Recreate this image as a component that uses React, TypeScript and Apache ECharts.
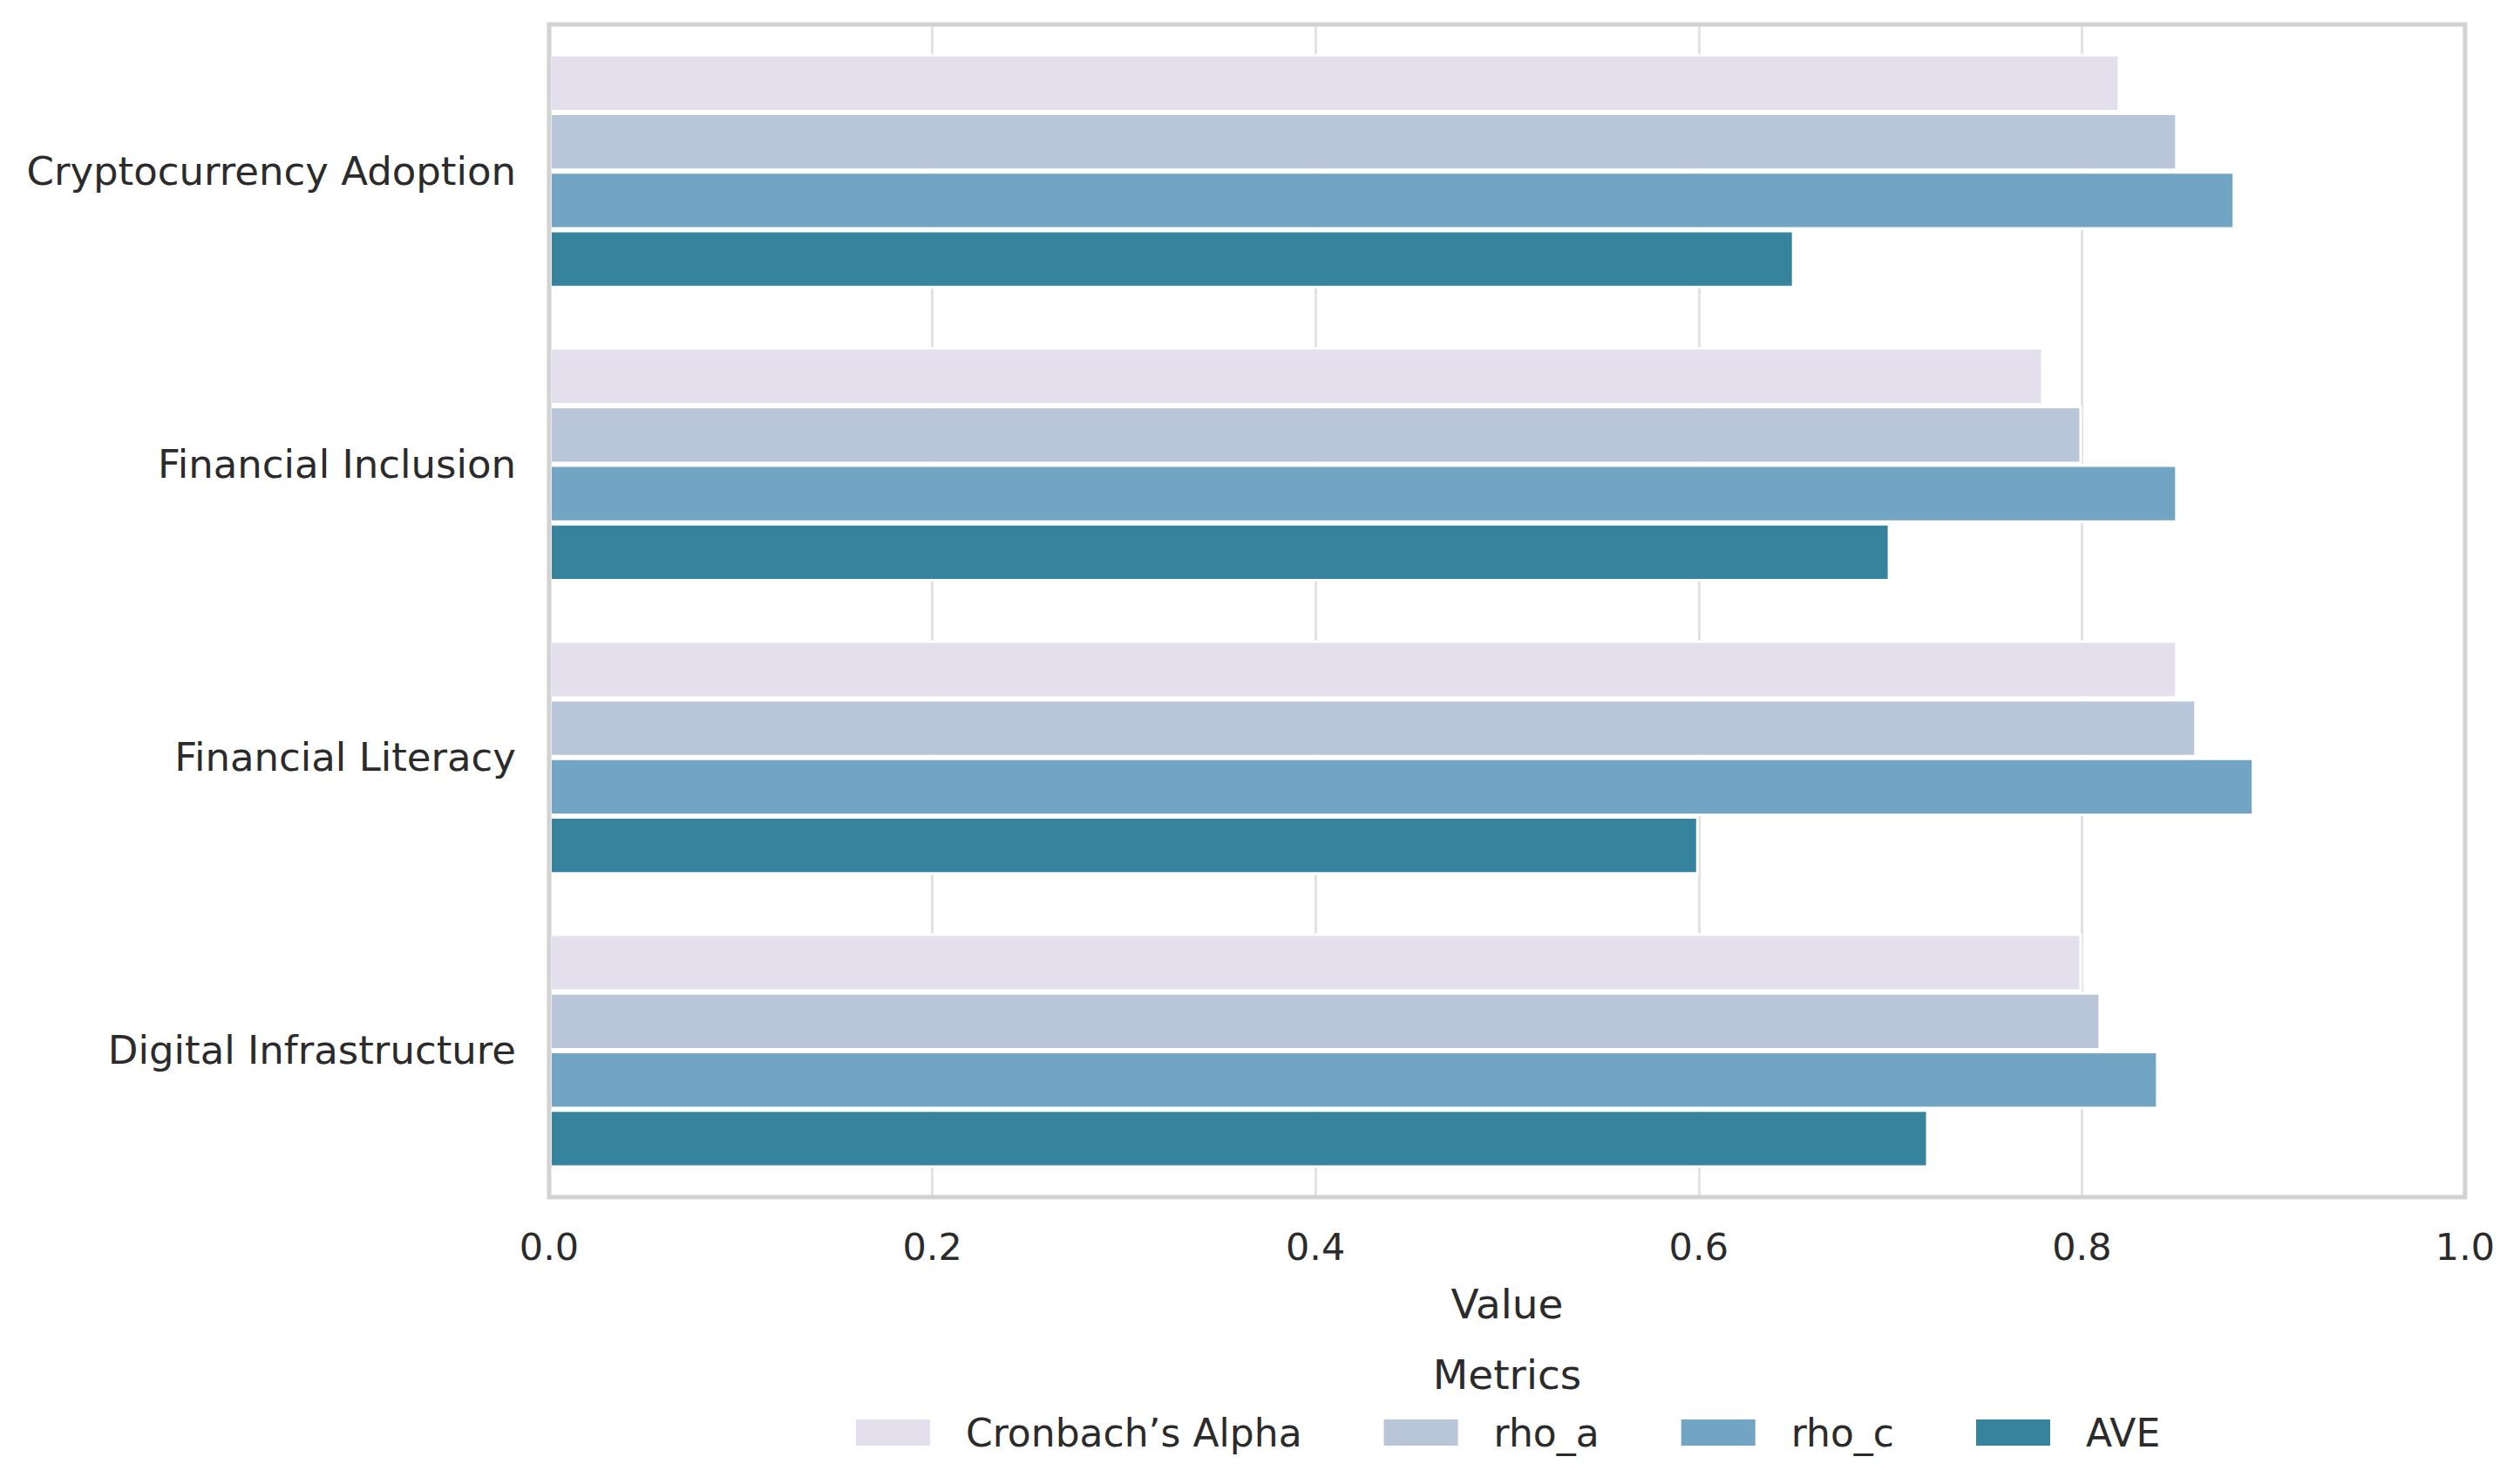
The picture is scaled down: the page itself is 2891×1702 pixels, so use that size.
import React, { useEffect, useRef } from "react";
import * as echarts from "echarts";

const categories = [
  "Cryptocurrency Adoption",
  "Financial Inclusion",
  "Financial Literacy",
  "Digital Infrastructure",
];
const metricNames = ["Cronbach’s Alpha", "rho_a", "rho_c", "AVE"];
const cronbachAlpha = [0.82, 0.78, 0.85, 0.8];
const rhoA = [0.85, 0.8, 0.86, 0.81];
const rhoC = [0.88, 0.85, 0.89, 0.84];
const ave = [0.65, 0.7, 0.6, 0.72];
const xTicks = [0, 0.2, 0.4, 0.6, 0.8, 1.0];

const colors = ["#e4dfec", "#b9c6da", "#72a5c4", "#36839d"];
const FONT = "DejaVu Sans";
const TEXT = "#2b2b2b";

const W = 2891;
const H = 1702;
const PL = 630;
const PT = 28;
const PR = 2828;
const PB = 1373;

export default function App() {
  const ref = useRef<HTMLDivElement>(null);
  useEffect(() => {
    if (!ref.current) return;
    const chart = echarts.init(ref.current, null, { renderer: "svg" });
    const values = [cronbachAlpha, rhoA, rhoC, ave];
    const option = {
      animation: false,
      backgroundColor: "#ffffff",
      textStyle: { fontFamily: FONT, color: TEXT },
      grid: {
        left: PL,
        top: PT,
        width: PR - PL,
        height: PB - PT,
        containLabel: false,
      },
      xAxis: {
        type: "value",
        min: xTicks[0],
        max: xTicks[xTicks.length - 1],
        interval: 0.2,
        name: "Value",
        nameLocation: "middle",
        nameGap: 99,
        nameTextStyle: {
          fontSize: 47,
          color: TEXT,
          fontFamily: FONT,
          verticalAlign: "top",
        },
        axisLine: { show: false },
        axisTick: { show: false },
        axisLabel: {
          fontSize: 43,
          color: TEXT,
          fontFamily: FONT,
          margin: 35,
          formatter: (v: number) => v.toFixed(1),
        },
        splitLine: { show: true, lineStyle: { color: "#e2e2e2", width: 3 } },
      },
      yAxis: {
        type: "category",
        data: categories,
        inverse: true,
        axisLine: { show: false },
        axisTick: { show: false },
        axisLabel: {
          fontSize: 45,
          color: TEXT,
          fontFamily: FONT,
          margin: 38,
        },
        splitLine: { show: false },
      },
      legend: {
        data: metricNames,
        left: 982,
        top: 1621,
        padding: 0,
        itemWidth: 85,
        itemHeight: 30,
        itemGap: 94,
        icon: "rect",
        itemStyle: { borderWidth: 0 },
        textStyle: {
          fontSize: 44,
          color: TEXT,
          fontFamily: FONT,
          padding: [0, 0, 0, 36],
        },
      },
      graphic: [
        {
          type: "text",
          x: (PL + PR) / 2,
          y: 1576,
          style: {
            text: "Metrics",
            fontSize: 47,
            fontFamily: FONT,
            fill: TEXT,
            textAlign: "center",
            textVerticalAlign: "middle",
          },
        },
        {
          type: "rect",
          z: 100,
          silent: true,
          shape: { x: PL, y: PT, width: PR - PL, height: PB - PT },
          style: { fill: "none", stroke: "#d2d2d2", lineWidth: 5 },
        },
      ],
      series: metricNames.map((name, i) => ({
        name,
        type: "bar",
        data: values[i],
        barGap: "0%",
        barCategoryGap: "20%",
        itemStyle: {
          color: colors[i],
          borderColor: "#ffffff",
          borderWidth: 3,
        },
      })),
    };
    chart.setOption(option);
    return () => chart.dispose();
  }, []);
  return (
    <div
      ref={ref}
      style={{ position: "fixed", left: 0, top: 0, width: W, height: H }}
    />
  );
}
